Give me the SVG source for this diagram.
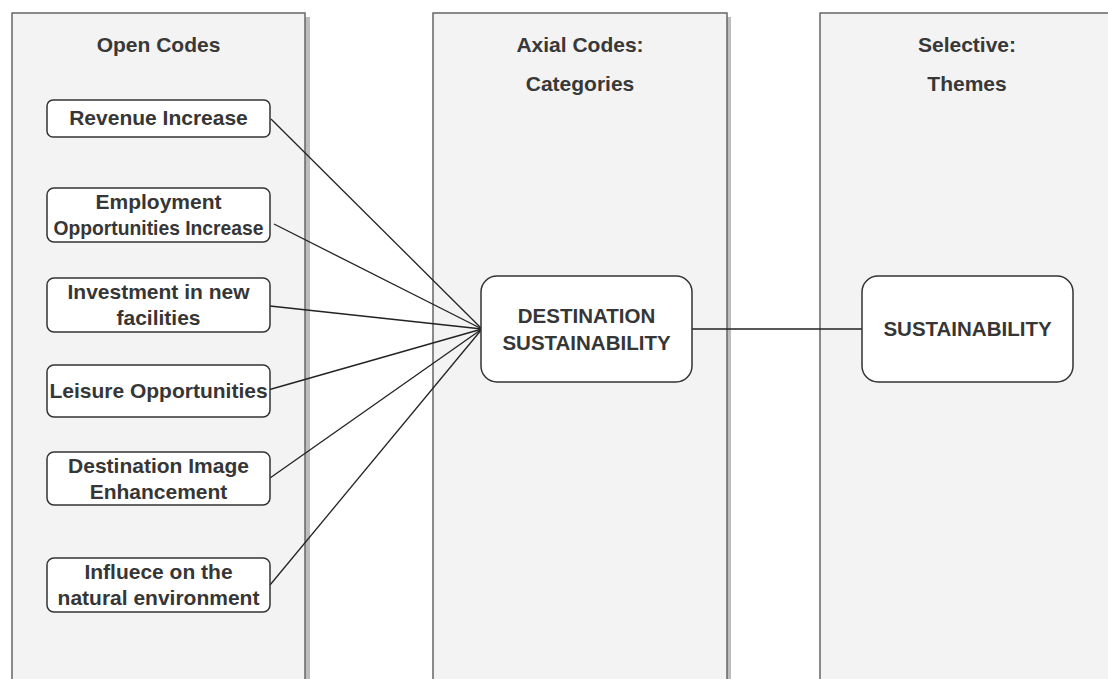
<svg xmlns="http://www.w3.org/2000/svg" width="1108" height="679" viewBox="0 0 1108 679">
  <style>
    .panel { fill: #f3f3f3; stroke: #666666; stroke-width: 1.5; }
    .shadow { fill: #bdbdbd; }
    .box { fill: #ffffff; stroke: #333333; stroke-width: 1.5; }
    .title { font-family: "Liberation Sans", Arial, sans-serif; font-size: 21px; font-weight: bold; fill: #383838; text-anchor: middle; }
    .label { font-family: "Liberation Sans", Arial, sans-serif; font-size: 21px; font-weight: bold; fill: #363636; text-anchor: middle; }
    .caps { font-family: "Liberation Sans", Arial, sans-serif; font-size: 20.5px; font-weight: bold; fill: #363636; text-anchor: middle; }
    .link { stroke: #222222; stroke-width: 1.3; fill: none; }
  </style>
  <rect width="1108" height="679" fill="#ffffff"/>

  <!-- column panels with drop shadow -->
  <g id="col-open">
    <rect class="shadow" x="16" y="17" width="294" height="680"/>
    <rect class="panel" x="12" y="13" width="293" height="680"/>
    <text class="title" x="158.5" y="52">Open Codes</text>
  </g>
  <g id="col-axial">
    <rect class="shadow" x="437" y="17" width="294" height="680"/>
    <rect class="panel" x="433" y="13" width="294" height="680"/>
    <text class="title" x="580" y="52">Axial Codes:</text>
    <text class="title" x="580" y="91">Categories</text>
  </g>
  <g id="col-selective">
    <rect class="shadow" x="824" y="17" width="294" height="680"/>
    <rect class="panel" x="820" y="13" width="294" height="680"/>
    <text class="title" x="967" y="52">Selective:</text>
    <text class="title" x="967" y="91">Themes</text>
  </g>

  <!-- connectors -->
  <g id="connectors">
    <line class="link" x1="271" y1="119" x2="482" y2="329"/>
    <line class="link" x1="274" y1="224" x2="482" y2="329"/>
    <line class="link" x1="270" y1="306" x2="482" y2="329"/>
    <line class="link" x1="268" y1="390" x2="482" y2="329"/>
    <line class="link" x1="270" y1="478" x2="482" y2="329"/>
    <line class="link" x1="270" y1="585" x2="482" y2="329"/>
    <line class="link" x1="692" y1="329" x2="862" y2="329"/>
  </g>

  <!-- open codes -->
  <g id="revenue-increase">
    <rect class="box" x="47" y="100" width="223" height="37" rx="6"/>
    <text class="label" x="158.5" y="125">Revenue Increase</text>
  </g>
  <g id="employment-opportunities">
    <rect class="box" x="47" y="188" width="223" height="54" rx="7"/>
    <text class="label" x="158.5" y="209">Employment</text>
    <text class="label" x="158.5" y="235" textLength="210" lengthAdjust="spacingAndGlyphs">Opportunities Increase</text>
  </g>
  <g id="investment-facilities">
    <rect class="box" x="47" y="278" width="223" height="54" rx="7"/>
    <text class="label" x="158.5" y="299">Investment in new</text>
    <text class="label" x="158.5" y="325">facilities</text>
  </g>
  <g id="leisure-opportunities">
    <rect class="box" x="47" y="365" width="223" height="52" rx="7"/>
    <text class="label" x="158.5" y="398">Leisure Opportunities</text>
  </g>
  <g id="destination-image">
    <rect class="box" x="47" y="452" width="223" height="53" rx="7"/>
    <text class="label" x="158.5" y="473">Destination Image</text>
    <text class="label" x="158.5" y="499">Enhancement</text>
  </g>
  <g id="natural-environment">
    <rect class="box" x="47" y="558" width="223" height="54" rx="7"/>
    <text class="label" x="158.5" y="579">Influece on the</text>
    <text class="label" x="158.5" y="605">natural environment</text>
  </g>

  <!-- category -->
  <g id="destination-sustainability">
    <rect class="box" x="481" y="276" width="211" height="106" rx="16"/>
    <text class="caps" x="586.5" y="323">DESTINATION</text>
    <text class="caps" x="586.5" y="350">SUSTAINABILITY</text>
  </g>

  <!-- theme -->
  <g id="sustainability">
    <rect class="box" x="862" y="276" width="211" height="106" rx="16"/>
    <text class="caps" x="967.5" y="336">SUSTAINABILITY</text>
  </g>
</svg>
